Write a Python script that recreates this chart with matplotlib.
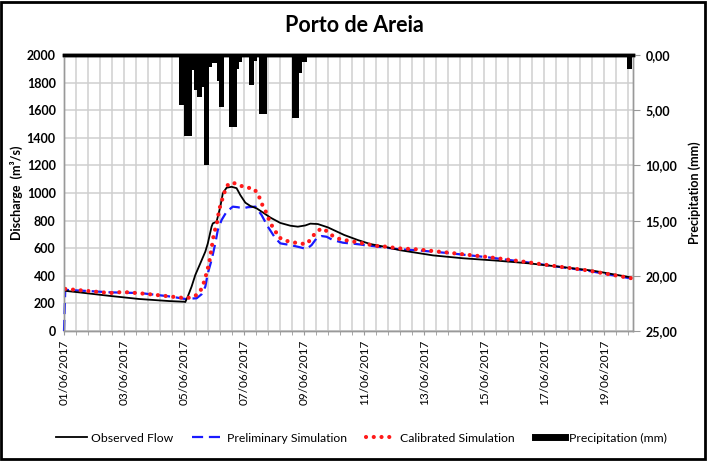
import matplotlib
matplotlib.use("Agg")
import matplotlib.pyplot as plt
from matplotlib.lines import Line2D
from matplotlib.patches import Rectangle
import numpy as np

plt.rcParams['font.family'] = ['Lato', 'DejaVu Sans']

# ---- data (time in hours since 01/06/2017 00:00) ----
obs_h = [0, 12, 36, 60, 84, 96, 97, 99, 102, 105, 109, 113, 115, 118, 119, 122, 125, 127, 130,
         134, 138, 141, 145, 149, 154, 160, 165, 173, 181, 187, 193, 197, 203, 211, 224, 235,
         245, 256, 269, 295, 319, 346, 372, 396, 423, 453]
obs_q = [292, 280, 255, 232, 217, 212, 210, 250, 321, 406, 490, 575, 635, 756, 780, 792, 901, 998, 1038,
         1045, 1035, 985, 930, 906, 889, 853, 822, 783, 763, 756, 765, 778, 775, 751, 696, 659,
         630, 611, 585, 548, 527, 510, 490, 466, 437, 389]

pre_h = [0, 1, 19, 37, 61, 85, 97, 101, 106, 110, 113, 115, 118, 121, 123, 126, 130, 135, 139,
         143, 147, 153, 158, 163, 169, 173, 181, 189, 194, 198, 202, 206, 210, 215, 223, 234,
         245, 256, 268, 282, 307, 338, 367, 393, 418, 454]
pre_q = [0, 298, 290, 280, 275, 250, 232, 235, 237, 266, 321, 418, 514, 635, 732, 804, 864, 901, 897,
         889, 897, 901, 840, 756, 672, 635, 623, 606, 594, 623, 672, 688, 683, 659, 640, 630,
         618, 606, 592, 585, 565, 535, 502, 468, 438, 380]

cal_h = [1, 19, 37, 47, 61, 73, 85, 97, 103, 108, 111, 114, 116, 118, 120, 122, 123, 124, 126, 128,
         131, 134, 139, 145, 151, 155, 158, 162, 165, 169, 171, 177, 182, 187, 194, 198, 201, 206,
         211, 215, 221, 229, 239, 250, 258, 267, 282, 307, 338, 367, 393, 418, 454]
cal_q = [305, 290, 275, 283, 273, 262, 250, 238, 245, 273, 326, 418, 490, 599, 712, 768, 817, 877, 937, 998,
         1058, 1077, 1063, 1038, 1036, 998, 925, 853, 780, 727, 683, 654, 647, 635, 630, 672, 712, 744,
         720, 688, 664, 652, 635, 616, 611, 599, 592, 568, 537, 503, 470, 440, 382]

# precipitation, 2-hour totals, start hour of each interval
rain_h = [92, 94, 96, 98, 100, 102, 104, 106, 108, 110, 112, 114, 116, 118, 120, 122, 124, 126,
          128, 130, 132, 134, 136, 138, 140, 148, 150, 152, 156, 158, 160,
          182, 184, 186, 188, 190, 192, 448, 450, 452]
rain_mm = [4.5, 4.5, 7.3, 7.3, 7.3, 1.4, 3.2, 3.8, 3.8, 2.9, 10.0, 10.0, 1.1, 0.7, 0.7, 2.4, 4.7, 4.7,
           0.1, 0.1, 6.5, 6.5, 6.5, 1.3, 0.6, 2.7, 2.7, 0.5, 5.3, 5.3, 5.3,
           5.7, 5.7, 5.7, 1.6, 0.6, 0.6, 0.2, 1.3, 1.3]

date_labels = ["01/06/2017", "03/06/2017", "05/06/2017", "07/06/2017", "09/06/2017",
               "11/06/2017", "13/06/2017", "15/06/2017", "17/06/2017", "19/06/2017"]
date_pos_h = [0, 48, 96, 144, 192, 240, 288, 336, 384, 432]

# ---- figure ----
fig = plt.figure(figsize=(7.09, 4.61), dpi=100)
ax = fig.add_axes([64/709, 1-331/461, 569/709, 276/461])
ax2 = ax.twinx()

grid_c = '#cfcfcf'
ax.set_xlim(0, 455)
ax.set_ylim(0, 2000)
ax.set_yticks(np.arange(0, 2001, 200))
ax.set_xticks(date_pos_h)
ax.set_xticks(np.arange(0, 456, 9.6), minor=True)
ax.set_xticklabels(date_labels, rotation=90, fontsize=8.5)
ax.grid(True, which='both', color=grid_c, lw=1.1)
ax.set_axisbelow(True)
ax.tick_params(axis='y', length=0, pad=6, labelsize=9)
for lab in ax.get_yticklabels():
    lab.set_fontweight('bold')
ax.tick_params(axis='x', which='both', length=3, color='#999999', pad=3)

ax.plot(obs_h, obs_q, color='black', lw=1.3, label='Observed Flow', zorder=4)
ax.plot(pre_h, pre_q, color='#1a1aff', lw=1.6, linestyle=(0, (5, 2.6)),
        label='Preliminary Simulation', zorder=3, clip_on=False)
ax.plot(cal_h, cal_q, color='#ff1a1a', lw=3.0, linestyle=(0, (0.01, 1.85)),
        dash_capstyle='round', label='Calibrated Simulation', zorder=5)

ax.set_ylabel('Discharge  (m³/s)', fontsize=9, fontweight='bold')
ax.yaxis.set_label_coords(-0.072, 0.5)

ax2.bar(rain_h, rain_mm, width=2, align='edge', color='black', lw=0, zorder=3)
ax2.set_ylim(25, 0)
ax2.set_yticks(np.arange(0, 26, 5))
ax2.set_yticklabels([f"{v:.2f}".replace('.', ',') for v in np.arange(0, 26, 5)],
                    fontsize=9, fontweight='bold')
ax2.tick_params(axis='y', length=5, color='#999999', pad=4)
ax2.set_ylabel('Precipitation (mm)', fontsize=9, fontweight='bold')
ax2.yaxis.set_label_coords(1.097, 0.5)

for a in (ax, ax2):
    for s in ('left', 'bottom', 'right'):
        a.spines[s].set_color('#999999')
        a.spines[s].set_linewidth(1.0)
    a.spines['top'].set_color('black')
    a.spines['top'].set_linewidth(2.5)

fig.text(0.5, 1-25/461, 'Porto de Areia', ha='center', va='center',
         fontsize=15.5, fontweight='bold')

handles = [Line2D([], [], color='black', lw=1.3),
           Line2D([], [], color='#1a1aff', lw=1.6, linestyle=(0, (5, 2.6))),
           Line2D([], [], color='#ff1a1a', lw=3.0, linestyle=(0, (0.01, 1.85)), dash_capstyle='round'),
           Line2D([], [], color='black', lw=5)]
labels = ['Observed Flow', 'Preliminary Simulation', 'Calibrated Simulation', 'Precipitation (mm)']
fig.legend(handles, labels, loc='center', bbox_to_anchor=(0.51, 1-438/461), ncol=4,
           frameon=False, fontsize=8.8, handlelength=2.5, handletextpad=0.3, columnspacing=1.6)

fig.patches.append(Rectangle((0.002, 0.004), 0.993, 0.992, transform=fig.transFigure,
                             fill=False, edgecolor='black', lw=2))

fig.savefig('out.png', dpi=100)
